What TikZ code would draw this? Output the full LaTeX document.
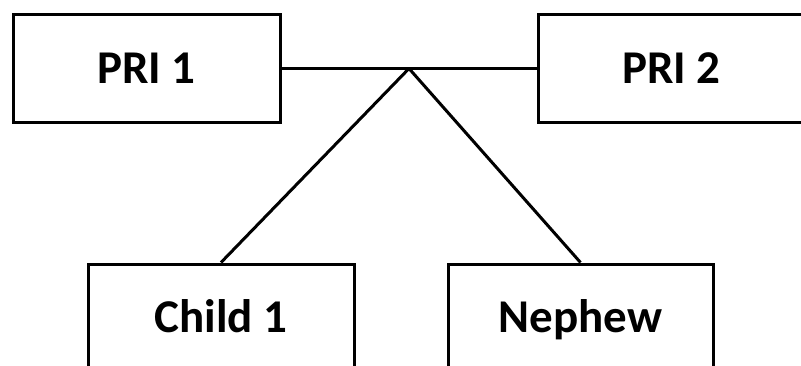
\documentclass[tikz,border=0pt]{standalone}
\usepackage{fontspec}
\setmainfont{Carlito}
\tikzset{caja/.style={draw,line width=3pt,minimum width=267pt,minimum height=107pt,text height=38pt,text depth=8pt,font=\fontsize{47}{50}\selectfont\bfseries}}
\begin{document}
\begin{tikzpicture}[x=1pt,y=1pt,line width=3pt]
\useasboundingbox (0,0) rectangle (801,365);

% Cajas de arriba
\node[caja] (pri1) at (146.5,296.5) {PRI 1};
\node[caja] (pri2) at (671.5,296.5) {PRI 2};

% Cajas de abajo
\node[caja,minimum width=266pt] (child) at (221,47.5) {Child 1};
\node[caja,minimum width=265pt] (nephew) at (580.5,47.5) {Nephew};

% Punto de union
\coordinate (union) at (409,296.5);

% Lineas
\draw (pri1.east)--(pri2.west);
\draw (union)--(child.north);
\draw (union)--(nephew.north);

\end{tikzpicture}
\end{document}
